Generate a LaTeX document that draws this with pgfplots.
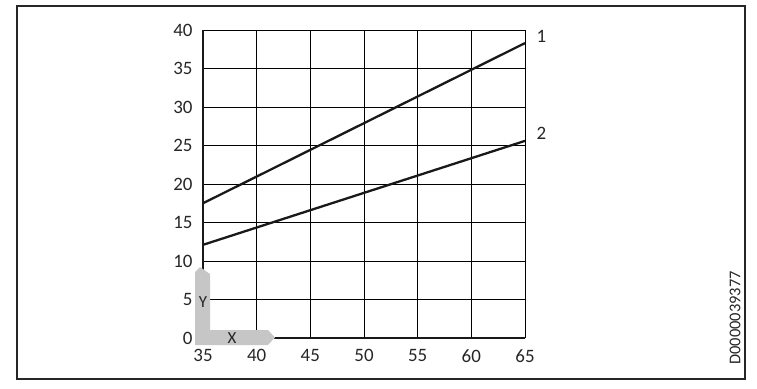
\documentclass[border=0pt]{standalone}
\usepackage{pgfplots}
\pgfplotsset{compat=1.18}
\usepackage{fontspec}
\setmainfont{Carlito}
\newfontfamily\codefont{Carlito}
\begin{document}
\begin{tikzpicture}[x=1bp,y=1bp]
\useasboundingbox (0,0) rectangle (757,388);
\draw[line width=1.2bp, black!85] (17,9) rectangle (745,382);
\begin{axis}[
  at={(203bp,50bp)}, anchor=origin,
  scale only axis, width=322bp, height=308bp,
  xmin=35, xmax=65, ymin=0, ymax=40,
  xtick={35,40,...,65}, ytick={0,5,...,40},
  grid=major,
  major grid style={line width=0.9bp, black},
  axis line style={draw=none},
  tick style={draw=none},
  /pgf/number format/assume math mode=true,
  ticklabel style={font=\fontsize{19}{21}\selectfont, text=black!85},
  xticklabel style={yshift=-8bp},
  yticklabel style={xshift=-7bp},
  clip=false,
]
\addplot[line width=2.3bp, black!90] coordinates {(35,17.5) (65,38.3)};
\addplot[line width=2.3bp, black!90] coordinates {(35,12.1) (65,25.6)};
\draw[line width=2.6bp, black!90] (axis cs:35,40) -- (axis cs:35,0) -- (axis cs:65,0);
\end{axis}
% gray X/Y indicator
\fill[gray!45] (195,43) -- (195,116) -- (200,121) -- (210,114) -- (210,58) -- (268,58) -- (275,50.5) -- (268,43) -- cycle;
\node[font=\fontsize{17}{19}\selectfont, text=black!85] at (203,86) {Y};
\node[font=\fontsize{17}{19}\selectfont, text=black!85] at (232,50) {X};
\node[font=\fontsize{19}{21}\selectfont, text=black!85, anchor=west] at (533,352) {1};
\node[font=\fontsize{19}{21}\selectfont, text=black!85, anchor=west] at (533,255) {2};
\node[font=\codefont\fontsize{16.5}{18}\selectfont, text=black!85, rotate=90] at (735,70) {D0000039377};
\end{tikzpicture}
\end{document}
